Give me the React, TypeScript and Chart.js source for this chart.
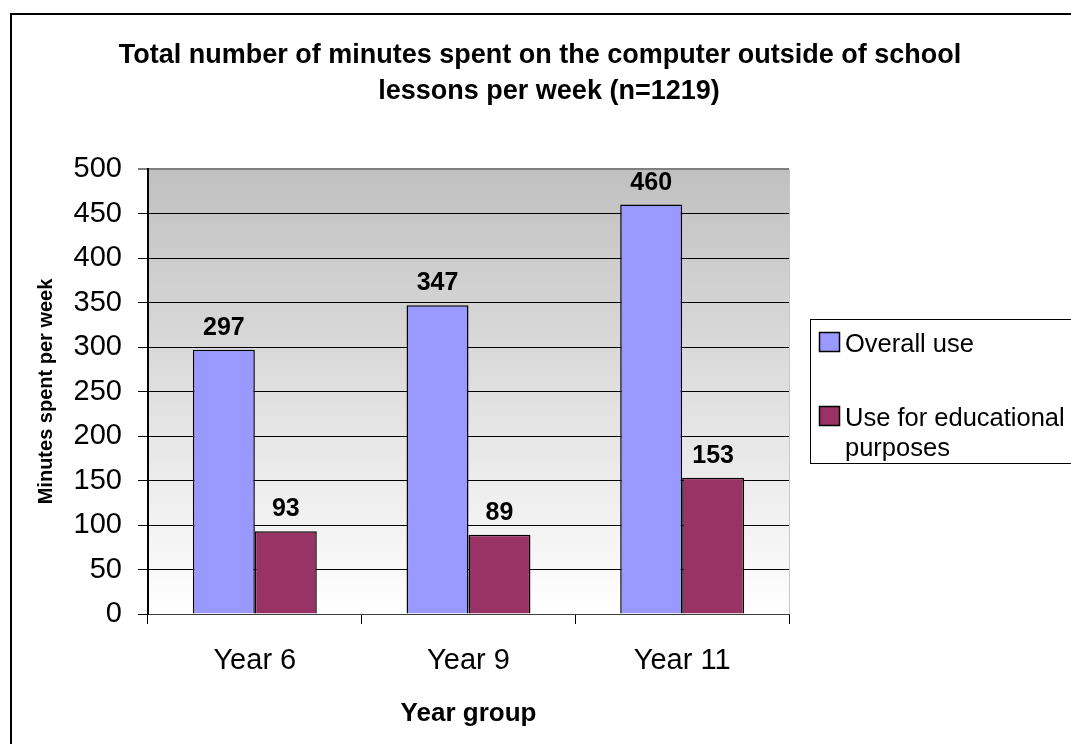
import React, { useEffect, useRef } from "react";
import { Chart, registerables } from "chart.js";

Chart.register(...registerables);

const CATEGORIES = ["Year 6", "Year 9", "Year 11"];
const OVERALL_USE = [297, 347, 460];
const EDUCATIONAL_USE = [93, 89, 153];
const SERIES_LABELS = ["Overall use", "Use for educational purposes"];
const TITLE_LINES = [
  "Total number of minutes spent on the computer outside of school",
  "lessons per week (n=1219)",
];
const Y_TITLE = "Minutes spent per week";
const X_TITLE = "Year group";
const Y_MIN = 0;
const Y_MAX = 500;
const Y_STEP = 50;

const FONT = "'Liberation Sans', Arial, sans-serif";

const framePlugin = {
  id: "framePlugin",
  beforeDraw(chart: any) {
    const { ctx, chartArea: a } = chart;
    ctx.save();
    ctx.fillStyle = "#ffffff";
    ctx.fillRect(0, 0, chart.width, chart.height);
    ctx.strokeStyle = "#000000";
    ctx.lineWidth = 2;
    ctx.strokeRect(11, 14, chart.width + 50, chart.height + 50);
    const g = ctx.createLinearGradient(0, a.top, 0, a.bottom);
    g.addColorStop(0, "#c0c0c0");
    g.addColorStop(1, "#ffffff");
    ctx.fillStyle = g;
    ctx.fillRect(a.left, a.top, a.right - a.left, a.bottom - a.top);
    ctx.fillStyle = "#000000";
    ctx.font = `bold 27px ${FONT}`;
    ctx.textAlign = "center";
    ctx.textBaseline = "alphabetic";
    ctx.fillText(TITLE_LINES[0], 540, 63);
    ctx.fillText(TITLE_LINES[1], 549, 99);
    ctx.restore();
  },
  beforeDatasetsDraw(chart: any) {
    const { ctx, chartArea: a } = chart;
    ctx.save();
    ctx.strokeStyle = "#c8c8c8";
    ctx.lineWidth = 1;
    ctx.beginPath();
    ctx.moveTo(a.right + 0.5, a.top);
    ctx.lineTo(a.right + 0.5, a.bottom);
    ctx.stroke();
    ctx.restore();
  },
  afterDatasetsDraw(chart: any) {
    const { ctx } = chart;
    ctx.save();
    ctx.fillStyle = "#000000";
    ctx.font = `bold 25px ${FONT}`;
    ctx.textAlign = "center";
    ctx.textBaseline = "alphabetic";
    chart.data.datasets.forEach((ds: any, i: number) => {
      const meta = chart.getDatasetMeta(i);
      meta.data.forEach((bar: any, j: number) => {
        ctx.fillText(String(ds.data[j]), bar.x, bar.y - 15);
      });
    });
    ctx.restore();
  },
  afterDraw(chart: any) {
    const { ctx } = chart;
    ctx.save();
    const bx = 810.5, by = 319.5, bw = 300, bh = 144;
    ctx.fillStyle = "#ffffff";
    ctx.fillRect(bx, by, bw, bh);
    ctx.strokeStyle = "#000000";
    ctx.lineWidth = 1;
    ctx.strokeRect(bx, by, bw, bh);
    ctx.font = `25.5px ${FONT}`;
    ctx.textAlign = "left";
    ctx.textBaseline = "alphabetic";
    const maxW = 226;
    const baselines = [352, 426];
    chart.data.datasets.forEach((ds: any, i: number) => {
      const base = baselines[i];
      ctx.fillStyle = ds.backgroundColor;
      ctx.fillRect(819, base - 20, 21, 20);
      ctx.strokeStyle = "#000000";
      ctx.lineWidth = 1.5;
      ctx.strokeRect(819.5, base - 19.5, 20, 19);
      const words = String(ds.label).split(" ");
      const lines: string[] = [];
      let cur = "";
      words.forEach((w) => {
        const t = cur ? cur + " " + w : w;
        if (ctx.measureText(t).width > maxW && cur) {
          lines.push(cur);
          cur = w;
        } else cur = t;
      });
      if (cur) lines.push(cur);
      ctx.fillStyle = "#000000";
      lines.forEach((ln, k) => ctx.fillText(ln, 845, base + k * 30));
    });
    ctx.restore();
  },
};

export default function App() {
  const ref = useRef<HTMLCanvasElement>(null);
  useEffect(() => {
    if (!ref.current) return;
    const chart = new Chart(ref.current, {
      type: "bar",
      data: {
        labels: CATEGORIES,
        datasets: [
          {
            label: SERIES_LABELS[0],
            data: OVERALL_USE,
            backgroundColor: "#9999ff",
            borderColor: "#000000",
            borderWidth: 1.5,
          },
          {
            label: SERIES_LABELS[1],
            data: EDUCATIONAL_USE,
            backgroundColor: "#993366",
            borderColor: "#000000",
            borderWidth: 1.5,
          },
        ],
      },
      options: {
        responsive: false,
        animation: false,
        devicePixelRatio: 1,
        layout: { padding: { left: 0, top: 169, right: 282, bottom: 0 } },
        datasets: {
          bar: { categoryPercentage: 0.58, barPercentage: 1.0 },
        },
        plugins: {
          legend: { display: false },
          title: { display: false },
          tooltip: { enabled: false },
        },
        scales: {
          x: {
            afterFit(s: any) {
              s.height = 130;
            },
            grid: {
              display: true,
              drawOnChartArea: false,
              drawTicks: true,
              tickLength: 10,
              color: "#000000",
              offset: true,
            },
            border: { display: true, color: "#404040", width: 1 },
            ticks: {
              color: "#000000",
              font: { family: FONT, size: 29 },
              padding: 20,
              maxRotation: 0,
            },
            title: {
              display: true,
              text: X_TITLE,
              color: "#000000",
              font: { family: FONT, size: 26, weight: "bold" },
              padding: { top: 0, bottom: 15 },
            },
          },
          y: {
            min: Y_MIN,
            max: Y_MAX,
            afterFit(s: any) {
              s.width = 148;
            },
            grid: {
              color: (c: any) => (c.tick && c.tick.value === Y_MAX ? "#808080" : "#000000"),
              lineWidth: (c: any) => (c.tick && c.tick.value === Y_MAX ? 2 : 1),
              tickLength: 10,
              drawTicks: true,
            },
            border: { display: true, color: "#000000", width: 2 },
            ticks: {
              stepSize: Y_STEP,
              color: "#000000",
              font: { family: FONT, size: 29 },
              padding: 16,
            },
            title: {
              display: true,
              text: Y_TITLE,
              color: "#000000",
              font: { family: FONT, size: 20, weight: "bold" },
              padding: { top: 34, bottom: 0 },
            },
          },
        },
      },
      plugins: [framePlugin],
    });
    return () => chart.destroy();
  }, []);
  return (
    <canvas
      ref={ref}
      width={1071}
      height={744}
      style={{ position: "fixed", left: 0, top: 0, width: 1071, height: 744 }}
    />
  );
}
